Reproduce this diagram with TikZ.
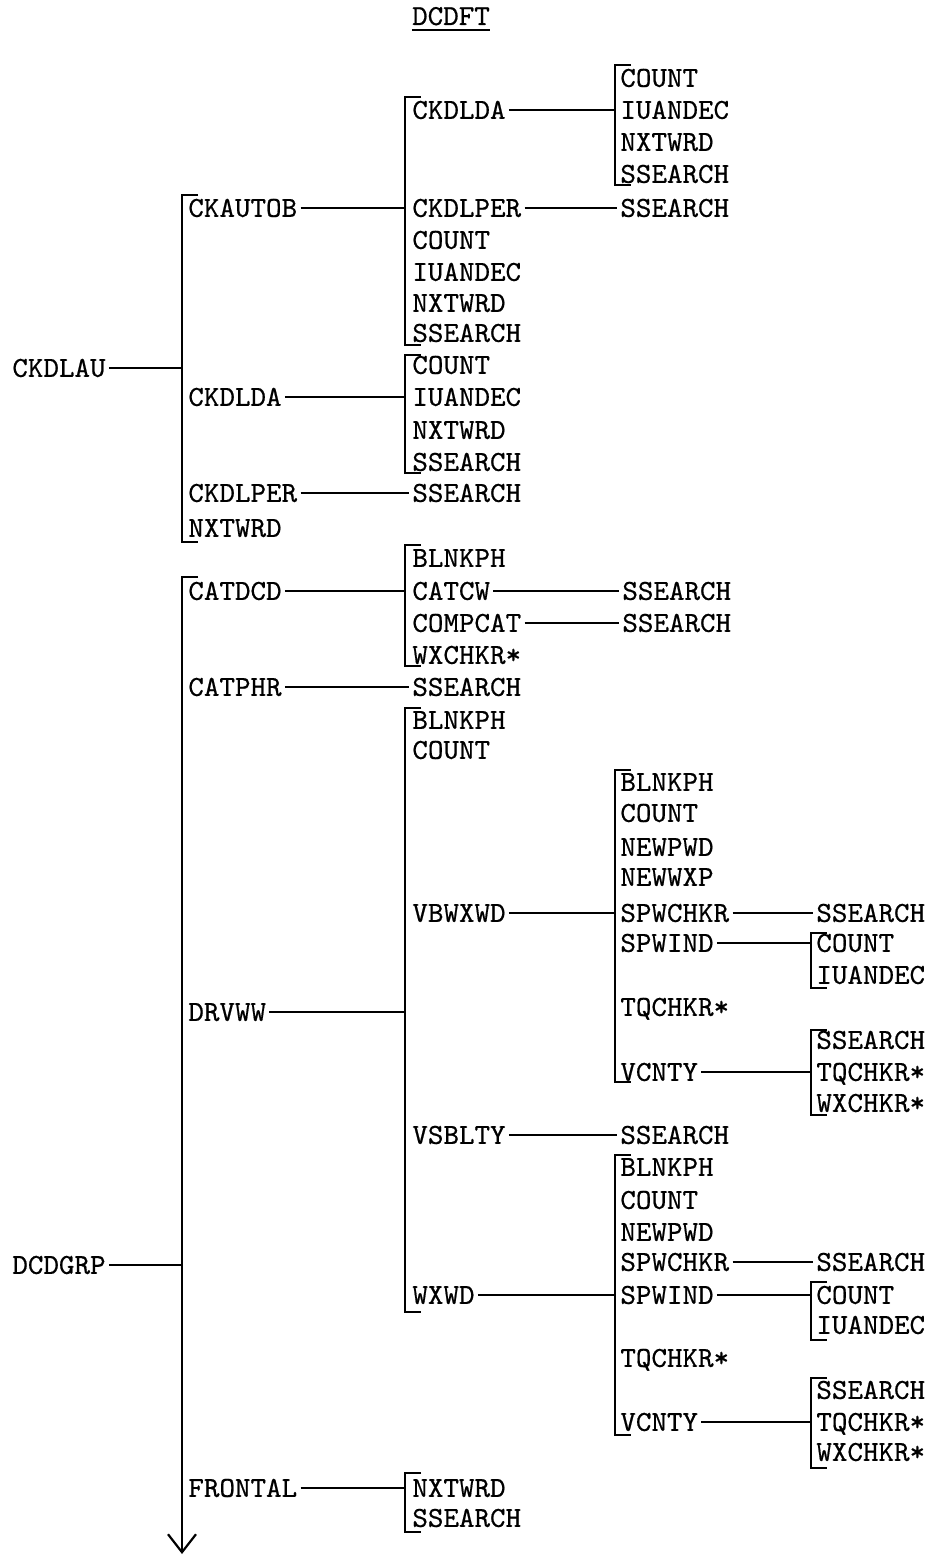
\documentclass[tikz,border=0pt]{standalone}
\usepackage{fontspec}
\newfontfamily\lbfont{lmmono10-regular.otf}[FakeStretch=1.02,FakeBold=0.6]
\usetikzlibrary{arrows.meta}
\tikzset{
  lbl/.style={anchor=west, inner sep=0pt, text height=8.85pt, text depth=0pt,
    font=\lbfont\fontsize{14.5pt}{16pt}\selectfont},
  conn/.style={line width=1.1pt, shorten <=1.5pt},
  connto/.style={conn, shorten >=1.5pt},
  brk/.style={line width=1.1pt},
}
\begin{document}
\begin{tikzpicture}[x=0.5pt,y=-0.5pt]
\useasboundingbox (0,0) rectangle (928,1556);
% title
\node[lbl, anchor=base] (title) at (451,25) {DCDFT};
\draw[brk] ([yshift=-2.5pt]title.base west) -- ([yshift=-2.5pt]title.base east);

% ===== CKDLAU tree =====
\node[lbl] (ckdlau) at (12,368) {CKDLAU};
\coordinate (b1t) at (182,195); \coordinate (b1b) at (182,542);
\draw[brk] (198,195) -- (b1t) -- (b1b) -- (198,542);
\draw[conn] (ckdlau.east) -- (ckdlau.east -| b1t);

\node[lbl] (ckautob) at (188,208) {CKAUTOB};
\node[lbl] (ckdlda1) at (188,397) {CKDLDA};
\node[lbl] (ckdlper1) at (188,493) {CKDLPER};
\node[lbl] (nxtwrd1) at (188,528) {NXTWRD};

% CKAUTOB group
\coordinate (b2t) at (405,97); \coordinate (b2b) at (405,345);
\draw[brk] (421,97) -- (b2t) -- (b2b) -- (421,345);
\draw[conn] (ckautob.east) -- (ckautob.east -| b2t);
\node[lbl] (ckdlda2) at (412,110) {CKDLDA};
\node[lbl] (ckdlper2) at (412,208) {CKDLPER};
\node[lbl] (count2) at (412,240) {COUNT};
\node[lbl] (iuandec2) at (412,272) {IUANDEC};
\node[lbl] (nxtwrd2) at (412,303) {NXTWRD};
\node[lbl] (ssearch2) at (412,333) {SSEARCH};

\coordinate (b3t) at (615,65); \coordinate (b3b) at (615,185);
\draw[brk] (631,65) -- (b3t) -- (b3b) -- (631,185);
\draw[conn] (ckdlda2.east) -- (ckdlda2.east -| b3t);
\node[lbl] (count3) at (620,78) {COUNT};
\node[lbl] (iuandec3) at (620,110) {IUANDEC};
\node[lbl] (nxtwrd3) at (620,142) {NXTWRD};
\node[lbl] (ssearch3) at (620,174) {SSEARCH};

\node[lbl] (ssearch3b) at (620,208) {SSEARCH};
\draw[connto] (ckdlper2.east) -- (ssearch3b.west);

% CKDLDA group
\coordinate (b2ct) at (405,355); \coordinate (b2cb) at (405,473);
\draw[brk] (421,355) -- (b2ct) -- (b2cb) -- (421,473);
\draw[conn] (ckdlda1.east) -- (ckdlda1.east -| b2ct);
\node[lbl] (count2c) at (412,365) {COUNT};
\node[lbl] (iuandec2c) at (412,397) {IUANDEC};
\node[lbl] (nxtwrd2c) at (412,430) {NXTWRD};
\node[lbl] (ssearch2c) at (412,462) {SSEARCH};

\node[lbl] (ssearch2d) at (412,493) {SSEARCH};
\draw[connto] (ckdlper1.east) -- (ssearch2d.west);

% ===== DCDGRP tree =====
\node[lbl] (dcdgrp) at (12,1265) {DCDGRP};
\coordinate (b1dt) at (182,577); \coordinate (arrend) at (182,1554);
\draw[brk, -{Straight Barb[length=9pt, width=14pt]}] (198,577) -- (b1dt) -- (arrend);
\draw[conn] (dcdgrp.east) -- (dcdgrp.east -| b1dt);

\node[lbl] (catdcd) at (188,591) {CATDCD};
\node[lbl] (catphr) at (188,687) {CATPHR};
\node[lbl] (drvww) at (188,1012) {DRVWW};
\node[lbl] (frontal) at (188,1488) {FRONTAL};

% CATDCD group
\coordinate (b2at) at (405,545); \coordinate (b2ab) at (405,666);
\draw[brk] (421,545) -- (b2at) -- (b2ab) -- (421,666);
\draw[conn] (catdcd.east) -- (catdcd.east -| b2at);
\node[lbl] (blnkph2a) at (412,558) {BLNKPH};
\node[lbl] (catcw) at (412,591) {CATCW};
\node[lbl] (compcat) at (412,623) {COMPCAT};
\node[lbl] (wxchkr2a) at (412,655) {WXCHKR*};
\node[lbl] (ssearch3e) at (622,591) {SSEARCH};
\node[lbl] (ssearch3f) at (622,623) {SSEARCH};
\draw[connto] (catcw.east) -- (ssearch3e.west);
\draw[connto] (compcat.east) -- (ssearch3f.west);

\node[lbl] (ssearch2g) at (412,687) {SSEARCH};
\draw[connto] (catphr.east) -- (ssearch2g.west);

% DRVWW group
\coordinate (b2bt) at (405,708); \coordinate (b2bb) at (405,1312);
\draw[brk] (421,708) -- (b2bt) -- (b2bb) -- (421,1312);
\draw[conn] (drvww.east) -- (drvww.east -| b2bt);
\node[lbl] (blnkph2b) at (412,720) {BLNKPH};
\node[lbl] (count2b) at (412,750) {COUNT};
\node[lbl] (vbwxwd) at (412,913) {VBWXWD};
\node[lbl] (vsblty) at (412,1135) {VSBLTY};
\node[lbl] (wxwd) at (412,1295) {WXWD};

% VBWXWD group
\coordinate (b3ct) at (615,770); \coordinate (b3cb) at (615,1082);
\draw[brk] (631,770) -- (b3ct) -- (b3cb) -- (631,1082);
\draw[conn] (vbwxwd.east) -- (vbwxwd.east -| b3ct);
\node[lbl] (blnkph3c) at (620,782) {BLNKPH};
\node[lbl] (count3c) at (620,813) {COUNT};
\node[lbl] (newpwd3c) at (620,847) {NEWPWD};
\node[lbl] (newwxp3c) at (620,877) {NEWWXP};
\node[lbl] (spwchkr3c) at (620,913) {SPWCHKR};
\node[lbl] (spwind3c) at (620,943) {SPWIND};
\node[lbl] (tqchkr3c) at (620,1007) {TQCHKR*};
\node[lbl] (vcnty3c) at (620,1072) {VCNTY};

\node[lbl] (ssearch4c) at (816,913) {SSEARCH};
\draw[connto] (spwchkr3c.east) -- (ssearch4c.west);

\coordinate (b4ct) at (811,933); \coordinate (b4cb) at (811,988);
\draw[brk] (827,933) -- (b4ct) -- (b4cb) -- (827,988);
\draw[conn] (spwind3c.east) -- (spwind3c.east -| b4ct);
\node[lbl] (count4c) at (816,943) {COUNT};
\node[lbl] (iuandec4c) at (816,975) {IUANDEC};

\coordinate (b4dt) at (811,1030); \coordinate (b4db) at (811,1115);
\draw[brk] (827,1030) -- (b4dt) -- (b4db) -- (827,1115);
\draw[conn] (vcnty3c.east) -- (vcnty3c.east -| b4dt);
\node[lbl] (ssearch4d) at (816,1040) {SSEARCH};
\node[lbl] (tqchkr4d) at (816,1072) {TQCHKR*};
\node[lbl] (wxchkr4d) at (816,1103) {WXCHKR*};

\node[lbl] (ssearch3h) at (620,1135) {SSEARCH};
\draw[connto] (vsblty.east) -- (ssearch3h.west);

% WXWD group
\coordinate (b3et) at (615,1155); \coordinate (b3eb) at (615,1435);
\draw[brk] (631,1155) -- (b3et) -- (b3eb) -- (631,1435);
\draw[conn] (wxwd.east) -- (wxwd.east -| b3et);
\node[lbl] (blnkph3e) at (620,1167) {BLNKPH};
\node[lbl] (count3e) at (620,1200) {COUNT};
\node[lbl] (newpwd3e) at (620,1232) {NEWPWD};
\node[lbl] (spwchkr3e) at (620,1262) {SPWCHKR};
\node[lbl] (spwind3e) at (620,1295) {SPWIND};
\node[lbl] (tqchkr3e) at (620,1358) {TQCHKR*};
\node[lbl] (vcnty3e) at (620,1422) {VCNTY};

\node[lbl] (ssearch4e) at (816,1262) {SSEARCH};
\draw[connto] (spwchkr3e.east) -- (ssearch4e.west);

\coordinate (b4et) at (811,1282); \coordinate (b4eb) at (811,1340);
\draw[brk] (827,1282) -- (b4et) -- (b4eb) -- (827,1340);
\draw[conn] (spwind3e.east) -- (spwind3e.east -| b4et);
\node[lbl] (count4e) at (816,1295) {COUNT};
\node[lbl] (iuandec4e) at (816,1325) {IUANDEC};

\coordinate (b4ft) at (811,1378); \coordinate (b4fb) at (811,1468);
\draw[brk] (827,1378) -- (b4ft) -- (b4fb) -- (827,1468);
\draw[conn] (vcnty3e.east) -- (vcnty3e.east -| b4ft);
\node[lbl] (ssearch4f) at (816,1390) {SSEARCH};
\node[lbl] (tqchkr4f) at (816,1422) {TQCHKR*};
\node[lbl] (wxchkr4f) at (816,1452) {WXCHKR*};

% FRONTAL group
\coordinate (b2ft) at (405,1473); \coordinate (b2fb) at (405,1532);
\draw[brk] (421,1473) -- (b2ft) -- (b2fb) -- (421,1532);
\draw[conn] (frontal.east) -- (frontal.east -| b2ft);
\node[lbl] (nxtwrd2f) at (412,1488) {NXTWRD};
\node[lbl] (ssearch2f) at (412,1518) {SSEARCH};
\end{tikzpicture}
\end{document}
